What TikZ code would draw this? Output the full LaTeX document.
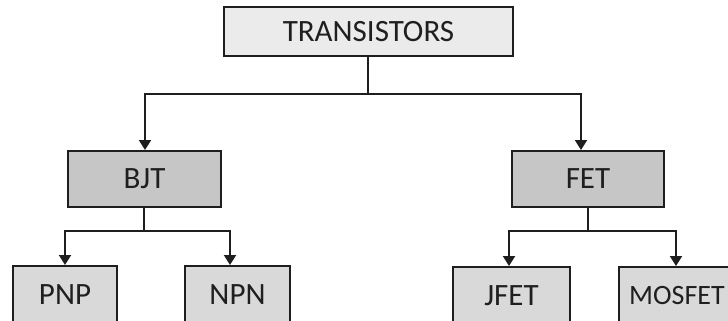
\documentclass[tikz,border=0pt]{standalone}
\usepackage{fontspec}
\setmainfont{Carlito}
\usetikzlibrary{arrows.meta}
\definecolor{topfill}{HTML}{EBEBEB}
\definecolor{midfill}{HTML}{C6C6C6}
\definecolor{lowfill}{HTML}{D9D9D9}
\definecolor{edge}{HTML}{1E1E1E}
\tikzset{
  box/.style={draw=edge, line width=2pt, inner sep=0pt, font=\fontsize{31}{34}\selectfont, text=black!88},
  conn/.style={draw=edge, line width=2pt},
  arr/.style={conn, -{Triangle[width=12pt,length=10pt]}},
}
\begin{document}
\begin{tikzpicture}[x=1pt,y=-1pt]
\useasboundingbox (0,0) rectangle (728,321);
\clip (0,0) rectangle (728,321);
\fill[white] (0,0) rectangle (728,321);
\node[box, fill=topfill, minimum width=289pt, minimum height=49pt] (T) at (368.5,31.5) {TRANSISTORS};
\node[box, fill=midfill, minimum width=153pt, minimum height=56pt] (B) at (144.5,179) {BJT};
\node[box, fill=midfill, minimum width=152pt, minimum height=56pt] (F) at (588,179) {FET};
\node[box, fill=lowfill, minimum width=104pt, minimum height=58pt] (P) at (65,295) {PNP};
\node[box, fill=lowfill, minimum width=105pt, minimum height=58pt] (N) at (237.5,295) {NPN};
\node[box, fill=lowfill, minimum width=117pt, minimum height=58pt] (J) at (511.5,296) {JFET};
\node[box, fill=lowfill, minimum width=116pt, minimum height=58pt, font=\fontsize{28}{31}\selectfont] (M) at (677,296) {MOSFET};
\coordinate (tj) at (368,94);
\coordinate (bj) at (144,231);
\coordinate (fj) at (588,231);
\draw[conn] ([xshift=-0.5pt]T.south) -- (tj);
\draw[arr] (tj) -| ([xshift=0.5pt]B.north);
\draw[arr] (tj) -| ([xshift=-7pt]F.north);
\draw[conn] ([xshift=-0.5pt]B.south) -- (bj);
\draw[arr] (bj) -| (P.north);
\draw[arr] (bj) -| ([xshift=-7.5pt]N.north);
\draw[conn] (F.south) -- (fj);
\draw[arr] (fj) -| ([xshift=-2.5pt]J.north);
\draw[arr] (fj) -| ([xshift=-1pt]M.north);
\end{tikzpicture}
\end{document}
